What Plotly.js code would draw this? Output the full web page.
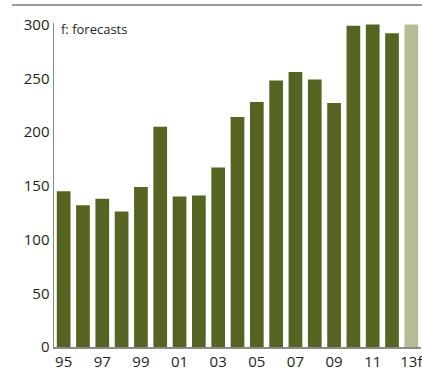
<!DOCTYPE html>
<html>
<head>
<meta charset="utf-8">
<script src="https://cdn.plot.ly/plotly-3.0.1.min.js"></script>
<style>
html,body{margin:0;padding:0;background:#fff;}
#chart{width:422px;height:369px;}
</style>
</head>
<body>
<div id="chart"></div>
<script>
const years = ["95","96","97","98","99","00","01","02","03","04","05","06","07","08","09","10","11","12","13f"];
const values = [145,132,138,126,149,205,140,141,167,214,228,248,256,249,227,299,300,292,300];
const tickLabels = ["95","97","99","01","03","05","07","09","11","13f"];
const forecastYears = ["13f"];

const colors = years.map(y => forecastYears.includes(y) ? "#b4bb95" : "#566422");

const W = 422, H = 369;
const margin = {l: 54, r: 1, t: 23, b: 22};
const plotW = W - margin.l - margin.r;
const plotH = H - margin.t - margin.b;
const px2x = px => (px - margin.l) / plotW;
const px2y = py => (H - margin.b - py) / plotH;

const trace = {
  type: "bar",
  x: years,
  y: values,
  marker: {color: colors},
  hoverinfo: "x+y"
};

const layout = {
  width: W, height: H,
  margin: margin,
  paper_bgcolor: "#fff",
  plot_bgcolor: "#fff",
  bargap: 0.29,
  showlegend: false,
  font: {family: "Open Sans, sans-serif", color: "#231f20"},
  xaxis: {
    type: "category",
    tickvals: tickLabels,
    ticktext: tickLabels,
    showgrid: false,
    zeroline: false,
    showline: true,
    linecolor: "#8a8a8a",
    linewidth: 1.5,
    ticks: "",
    tickfont: {size: 15, family: "Open Sans, sans-serif", color: "#231f20"},
    fixedrange: true
  },
  yaxis: {
    range: [0, 301.5],
    tickvals: [0,50,100,150,200,250,300],
    showgrid: false,
    zeroline: false,
    showline: true,
    linecolor: "#8a8a8a",
    linewidth: 1.5,
    ticks: "",
    tickfont: {size: 15, family: "Open Sans, sans-serif", color: "#231f20"},
    fixedrange: true
  },
  shapes: [{
    type: "line",
    xref: "paper", yref: "paper",
    x0: px2x(12), x1: px2x(422),
    y0: px2y(5), y1: px2y(5),
    line: {color: "#9a9a9a", width: 2}
  }],
  annotations: [{
    xref: "paper", yref: "paper",
    x: px2x(59), y: px2y(29),
    xanchor: "left", yanchor: "middle",
    text: "f: forecasts",
    showarrow: false,
    font: {size: 13, family: "Open Sans, sans-serif", color: "#231f20"}
  }]
};

Plotly.newPlot("chart", [trace], layout, {displayModeBar: false, staticPlot: true});
</script>
</body>
</html>
